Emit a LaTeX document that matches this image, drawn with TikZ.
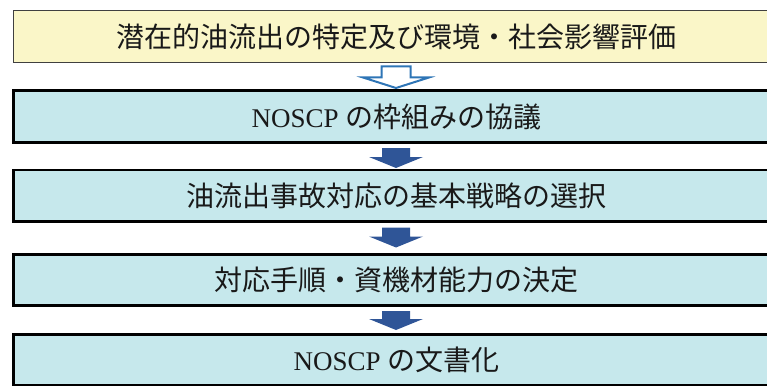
\documentclass[tikz,border=0pt]{standalone}
\usepackage{fontspec}
\setmainfont{Liberation Serif}
\newfontfamily\cjkfam{Noto Sans CJK JP}
\newcommand\cjk{\cjkfam\fontsize{28}{32}\selectfont}
\usetikzlibrary{calc}
\definecolor{yellowfill}{HTML}{FAF6C8}
\definecolor{cyanfill}{HTML}{C6E8EC}
\definecolor{arrowblue}{HTML}{2F5597}
\definecolor{outlineblue}{HTML}{2E75B6}
\newcommand\blockarrow[3]{%
  \path[#1] let \p1=(#2), \p2=(#3) in
    (\x1-14pt,\y1) -- (\x1+14pt,\y1) -- (\x1+14pt,\y2+11pt) -- (\x1+27pt,\y2+11pt)
    -- (\x1,\y2) -- (\x1-27pt,\y2+11pt) -- (\x1-14pt,\y2+11pt) -- cycle;}
\tikzset{
  flowtext/.style={font=\fontsize{27}{32}\selectfont, text=black!90, inner sep=0pt},
  yellowbox/.style={flowtext, rectangle, fill=yellowfill, draw=black!75, line width=1.2pt,
    minimum width=765.8pt, minimum height=51.8pt},
  cyanbox/.style={flowtext, rectangle, fill=cyanfill, draw=black, line width=2.6pt,
    minimum width=766pt, minimum height=51.4pt},
  solidarrow/.style={fill=arrowblue},
}
\begin{document}
\begin{tikzpicture}[x=1pt,y=-1pt]
\useasboundingbox (0,0) rectangle (767,385);
\clip (0,0) rectangle (767,385);
\node[yellowbox] (b1) at (396.5,36.5) {\cjk 潜在的油流出の特定及び環境・社会影響評価};
\node[cyanbox] (b2) at (396.5,116.5) {NOSCP {\cjk の枠組みの協議}};
\node[cyanbox] (b3) at (396.5,195.5) {\cjk 油流出事故対応の基本戦略の選択};
\node[cyanbox] (b4) at (396.5,280) {\cjk 対応手順・資機材能力の決定};
\node[cyanbox] (b5) at (396.5,360) {NOSCP {\cjk の文書化}};
% hollow arrow
\coordinate (a1t) at ($(b1.south)+(-0.5,3.5)$);
\coordinate (a1b) at ($(b2.north)+(-0.5,-1.5)$);
\path[draw=outlineblue, line width=2pt, fill=white] let \p1=(a1t), \p2=(a1b) in
    (\x1-14.5pt,\y1) -- (\x1+14.5pt,\y1) -- (\x1+14.5pt,\y2+10.5pt) -- (\x1+33pt,\y2+10.5pt)
    -- (\x1,\y2) -- (\x1-33pt,\y2+10.5pt) -- (\x1-14.5pt,\y2+10.5pt) -- cycle;
% solid arrows
\coordinate (a2t) at ($(b2.south)+(-0.5,4.5)$);
\coordinate (a2b) at ($(b3.north)+(-0.5,-0.5)$);
\blockarrow{solidarrow}{a2t}{a2b}
\coordinate (a3t) at ($(b3.south)+(-0.5,5)$);
\coordinate (a3b) at ($(b4.north)+(-0.5,-5.5)$);
\blockarrow{solidarrow}{a3t}{a3b}
\coordinate (a4t) at ($(b4.south)+(-0.5,4)$);
\coordinate (a4b) at ($(b5.north)+(-0.5,-3)$);
\blockarrow{solidarrow}{a4t}{a4b}
\end{tikzpicture}
\end{document}
